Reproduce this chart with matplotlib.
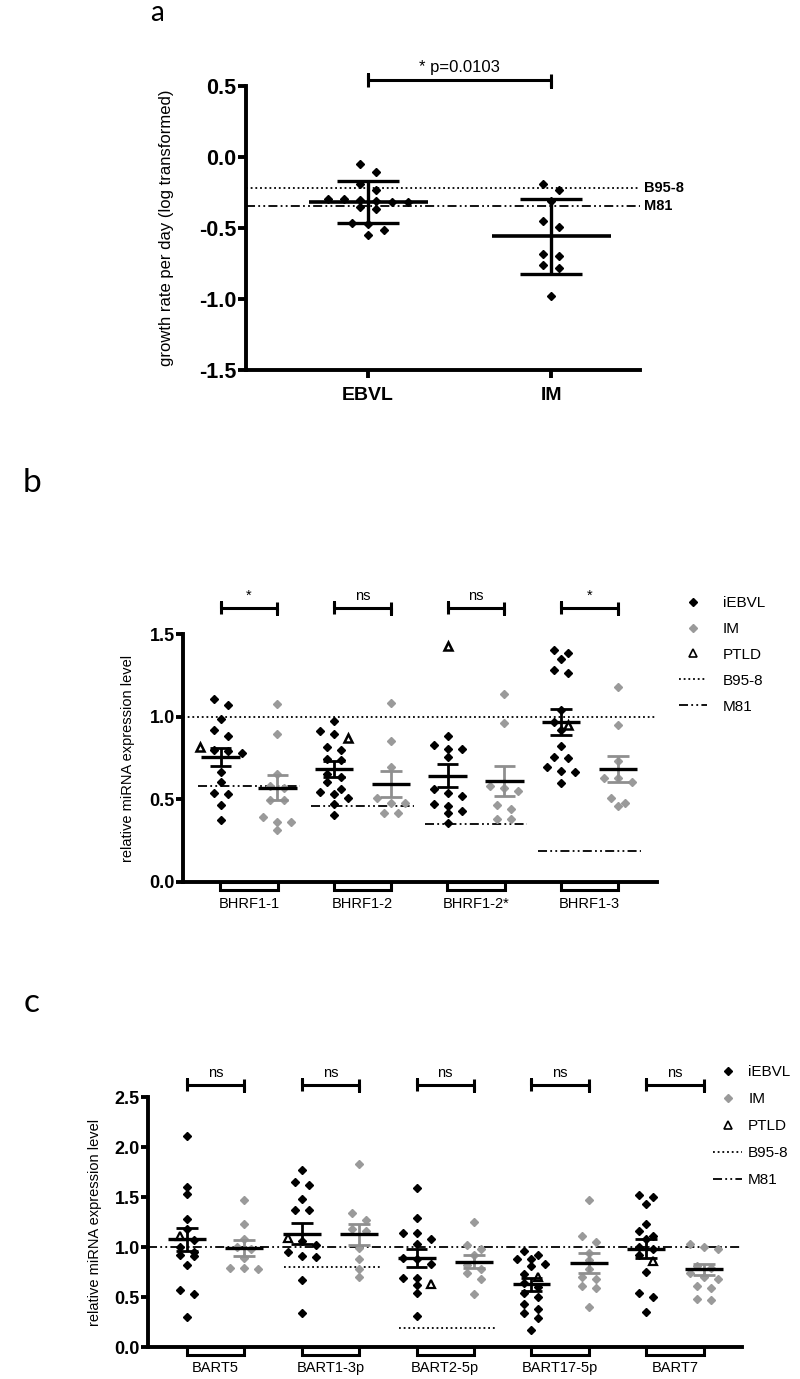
import numpy as np
import matplotlib.pyplot as plt
from matplotlib.lines import Line2D
import matplotlib.transforms as mtransforms

plt.rcParams['font.family'] = ['Liberation Sans', 'DejaVu Sans']
plt.rcParams['axes.unicode_minus'] = False

# ---------------- data ----------------
# panel a: growth rate per day (log transformed)
a_groups = ["EBVL", "IM"]
ebvl_growth = [-0.047, -0.103, -0.188, -0.235, -0.293, -0.293, -0.30, -0.31, -0.315,
               -0.32, -0.352, -0.364, -0.465, -0.469, -0.516, -0.552]
im_growth = [-0.188, -0.23, -0.312, -0.453, -0.495, -0.681, -0.697, -0.763, -0.782, -0.979]
growth_mean = [-0.319, -0.559]
growth_sd = [0.149, 0.265]
growth_b958 = -0.218
growth_m81 = -0.347
growth_pval = "* p=0.0103"

# panel b: BHRF1 miRNAs
b_cats = ["BHRF1-1", "BHRF1-2", "BHRF1-2*", "BHRF1-3"]
b_iebvl = [
    [1.106, 1.071, 0.986, 0.922, 0.884, 0.80, 0.79, 0.78, 0.663, 0.602, 0.541, 0.535, 0.465, 0.376],
    [0.973, 0.914, 0.894, 0.816, 0.796, 0.745, 0.735, 0.653, 0.633, 0.602, 0.561, 0.545, 0.531,
     0.51, 0.469, 0.404],
    [0.882, 0.827, 0.806, 0.806, 0.755, 0.561, 0.541, 0.52, 0.469, 0.46, 0.429, 0.418, 0.357],
    [1.404, 1.384, 1.347, 1.28, 1.265, 1.04, 0.97, 0.922, 0.82, 0.755, 0.751, 0.698, 0.673,
     0.663, 0.596],
]
b_ptld = [0.816, 0.873, 1.429, 0.949]
b_im = [
    [1.076, 0.898, 0.653, 0.582, 0.57, 0.494, 0.494, 0.392, 0.361, 0.361, 0.316],
    [1.082, 0.851, 0.698, 0.51, 0.476, 0.476, 0.418, 0.418],
    [1.137, 0.963, 0.582, 0.571, 0.55, 0.465, 0.439, 0.384, 0.384],
    [1.18, 0.949, 0.731, 0.629, 0.629, 0.602, 0.51, 0.476, 0.459],
]
b_iebvl_mean = [0.755, 0.684, 0.643, 0.969]
b_iebvl_sem = [0.054, 0.049, 0.071, 0.077]
b_im_mean = [0.571, 0.592, 0.612, 0.684]
b_im_sem = [0.074, 0.077, 0.089, 0.081]
b_b958 = 1.0
b_m81 = [0.578, 0.459, 0.353, 0.188]
b_sig = ["*", "ns", "ns", "*"]

# panel c: BART miRNAs
c_cats = ["BART5", "BART1-3p", "BART2-5p", "BART17-5p", "BART7"]
c_iebvl = [
    [2.108, 1.6, 1.53, 1.28, 1.18, 1.07, 1.0, 0.953, 0.92, 0.91, 0.82, 0.57, 0.527, 0.3],
    [1.77, 1.65, 1.62, 1.48, 1.37, 1.37, 1.06, 1.02, 0.95, 0.91, 0.90, 0.667, 0.337],
    [1.59, 1.287, 1.143, 1.137, 1.083, 1.03, 0.893, 0.877, 0.827, 0.693, 0.687, 0.62, 0.543, 0.31],
    [0.96, 0.92, 0.883, 0.877, 0.827, 0.81, 0.727, 0.643, 0.603, 0.543, 0.5, 0.427, 0.383,
     0.343, 0.293, 0.167],
    [1.517, 1.503, 1.427, 1.233, 1.16, 1.11, 1.083, 1.003, 0.977, 0.917, 0.753, 0.537, 0.5, 0.35],
]
c_ptld = [1.11, 1.087, 0.627, 0.703, 0.86]
c_im = [
    [1.467, 1.227, 1.077, 1.003, 0.98, 0.893, 0.793, 0.793, 0.777],
    [1.83, 1.337, 1.27, 1.18, 1.16, 0.987, 0.877, 0.777, 0.703],
    [1.25, 1.017, 0.977, 0.917, 0.817, 0.777, 0.737, 0.677, 0.527],
    [1.47, 1.11, 1.05, 0.943, 0.87, 0.777, 0.7, 0.677, 0.61, 0.593, 0.4],
    [1.027, 1.0, 0.977, 0.81, 0.787, 0.74, 0.703, 0.677, 0.61, 0.587, 0.483, 0.467],
]
c_iebvl_mean = [1.077, 1.133, 0.893, 0.627, 0.983]
c_iebvl_sem = [0.113, 0.103, 0.088, 0.062, 0.095]
c_im_mean = [0.993, 1.127, 0.853, 0.843, 0.777]
c_im_sem = [0.08, 0.108, 0.067, 0.1, 0.058]
c_m81 = 1.0
c_b958 = [np.nan, 0.8, 0.19, np.nan, np.nan]
c_sig = ["ns", "ns", "ns", "ns", "ns"]

# ---------------- styles ----------------
BLACK = "black"
GRAY = "#9a9a9a"
GRAY_ERR = "#8f8f8f"
DOT = (0, (1, 1.6))
DASHDOTDOT = (0, (5, 1.8, 1, 1.8, 1, 1.8))
LW_AX = 2.8

W, H = 800, 1379
fig = plt.figure(figsize=(W / 100, H / 100), dpi=100)


def px_axes(l, r, t, b):
    return fig.add_axes([l / W, 1 - b / H, (r - l) / W, (b - t) / H])


def style_axes(ax, ticks, tick_fs, tick_len):
    for s in ["top", "right"]:
        ax.spines[s].set_visible(False)
    for s in ["left", "bottom"]:
        ax.spines[s].set_linewidth(LW_AX)
        ax.spines[s].set_capstyle("projecting")
    ax.set_yticks(ticks)
    ax.set_yticklabels([f"{t:.1f}" for t in ticks], fontweight="bold", fontsize=tick_fs)
    ax.tick_params(axis="y", width=LW_AX, length=tick_len, pad=1)


def swarm(ax, vals, row_px, step_px):
    # rows of nearly equal values are spread sideways, centred on the group
    vals = np.asarray(vals, float)
    to_px = ax.transData.transform
    ys = to_px(np.column_stack([np.zeros_like(vals), vals]))[:, 1]
    ux = to_px([[1, 0]])[0, 0] - to_px([[0, 0]])[0, 0]
    order = np.argsort(-ys)
    rows = []
    for i in order:
        if rows and ys[rows[-1][0]] - ys[i] < row_px:
            rows[-1].append(i)
        else:
            rows.append([i])
    offs = np.zeros_like(vals)
    for r in rows:
        n = len(r)
        for k, i in enumerate(r):
            offs[i] = (k - (n - 1) / 2) * step_px / ux
    return offs


def mean_err(ax, x, m, e, mw, cw, mcol, ecol, lw_m, lw_e):
    ax.vlines(x, m - e, m + e, color=ecol, lw=lw_e, zorder=4)
    ax.hlines([m - e, m + e], x - cw / 2, x + cw / 2, color=ecol, lw=lw_e, zorder=4)
    ax.hlines(m, x - mw / 2, x + mw / 2, color=mcol, lw=lw_m, zorder=5)


def bracket(ax, x0, x1, y, tick, text, fs):
    ax.plot([x0, x0, x0, x1, x1, x1], [y - tick, y + tick, y, y, y - tick, y + tick],
            color=BLACK, lw=2.2, clip_on=False, solid_capstyle="butt")
    ax.text((x0 + x1) / 2, y + tick * 0.9, text, ha="center", va="bottom", fontsize=fs)


# ================= panel a =================
ax_a = px_axes(246, 640, 86, 370)
ax_a.set_xlim(-0.667, 1.486)
ax_a.set_ylim(-1.5, 0.5)
style_axes(ax_a, [-1.5, -1.0, -0.5, 0.0, 0.5], 15.5, 6)
ax_a.set_xticks([0, 1])
ax_a.set_xticklabels(a_groups, fontweight="bold", fontsize=14)
ax_a.tick_params(axis="x", width=LW_AX, length=6, pad=6)
ax_a.set_ylabel("growth rate per day (log transformed)", fontsize=12, labelpad=18)

ax_a.axhline(growth_b958, ls=DOT, color=BLACK, lw=1.3, zorder=1)
ax_a.axhline(growth_m81, ls=DASHDOTDOT, color=BLACK, lw=1.3, zorder=1)
tr_a = mtransforms.blended_transform_factory(ax_a.transAxes, ax_a.transData)
ax_a.text(1.01, growth_b958, "B95-8", transform=tr_a, va="center", ha="left",
          fontweight="bold", fontsize=10.5)
ax_a.text(1.01, growth_m81, "M81", transform=tr_a, va="center", ha="left",
          fontweight="bold", fontsize=10.5)

for i, vals in enumerate([ebvl_growth, im_growth]):
    offs = swarm(ax_a, vals, 8, 16)
    ax_a.plot(i + offs, vals, ls="none", marker="D", ms=4.3, color=BLACK, zorder=3)
    mean_err(ax_a, i, growth_mean[i], growth_sd[i], 0.65, 0.34, BLACK, BLACK, 2.6, 2.4)

bracket(ax_a, 0, 1, 0.54, 0.045, growth_pval, 12)
fig.text(157 / W, 1 - 21 / H, "a", fontsize=20, family="Lato", ha="center", va="baseline")

# ================= panel b =================
ax_b = px_axes(183, 657, 634, 882)
ax_b.set_xlim(-0.581, 3.595)
ax_b.set_ylim(0, 1.5)
style_axes(ax_b, [0.0, 0.5, 1.0, 1.5], 13, 5)
ax_b.set_xticks(range(len(b_cats)))
ax_b.set_xticklabels(b_cats, fontsize=10.5)
ax_b.tick_params(axis="x", length=0, pad=11)
ax_b.set_ylabel("relative miRNA expression level", fontsize=10.5, labelpad=10)
ax_b.bar(range(len(b_cats)), -0.05, width=0.51, bottom=0, color="white", edgecolor=BLACK,
         lw=2.2, clip_on=False, zorder=0)

ax_b.axhline(b_b958, ls=DOT, color=BLACK, lw=1.3, zorder=1)
for i in range(len(b_cats)):
    ax_b.hlines(b_m81[i], i - 0.45, i + 0.45, ls=DASHDOTDOT, color=BLACK, lw=1.3, zorder=1)
    xb, xg = i - 0.25, i + 0.25
    vals = b_iebvl[i] + [b_ptld[i]]
    offs = swarm(ax_b, vals, 7, 14)
    ax_b.plot(xb + offs[:-1], b_iebvl[i], ls="none", marker="D", ms=3.7, color=BLACK, zorder=3)
    ax_b.plot(xb + offs[-1], b_ptld[i], ls="none", marker="^", ms=6, mfc="white", mec=BLACK,
              mew=1.8, zorder=3, clip_on=False)
    offs = swarm(ax_b, b_im[i], 7, 14)
    ax_b.plot(xg + offs, b_im[i], ls="none", marker="D", ms=3.7, color=GRAY, zorder=3)
    mean_err(ax_b, xb, b_iebvl_mean[i], b_iebvl_sem[i], 0.34, 0.19, BLACK, BLACK, 2.4, 2.0)
    mean_err(ax_b, xg, b_im_mean[i], b_im_sem[i], 0.34, 0.19, BLACK, GRAY_ERR, 2.4, 2.0)
    bracket(ax_b, xb, xg, 1.657, 0.036, b_sig[i], 10.5)

fig.text(32 / W, 1 - 483 / H, "b", fontsize=24, family="Lato", ha="center", va="center")

# ================= panel c =================
ax_c = px_axes(148, 742, 1097, 1347)
ax_c.set_xlim(-0.587, 4.582)
ax_c.set_ylim(0, 2.5)
style_axes(ax_c, [0.0, 0.5, 1.0, 1.5, 2.0, 2.5], 13, 5)
ax_c.set_xticks(range(len(c_cats)))
ax_c.set_xticklabels(c_cats, fontsize=10.5)
ax_c.tick_params(axis="x", length=0, pad=10)
ax_c.set_ylabel("relative miRNA expression level", fontsize=10.5, labelpad=9)
ax_c.bar(range(len(c_cats)), -0.075, width=0.5, bottom=0, color="white", edgecolor=BLACK,
         lw=2.2, clip_on=False, zorder=0)

ax_c.axhline(c_m81, ls=DASHDOTDOT, color=BLACK, lw=1.3, zorder=1)
for i in range(len(c_cats)):
    if not np.isnan(c_b958[i]):
        ax_c.hlines(c_b958[i], i - 0.4, i + 0.45, ls=DOT, color=BLACK, lw=1.3, zorder=1)
    xb, xg = i - 0.25, i + 0.25
    vals = c_iebvl[i] + [c_ptld[i]]
    offs = swarm(ax_c, vals, 7, 14)
    ax_c.plot(xb + offs[:-1], c_iebvl[i], ls="none", marker="D", ms=3.7, color=BLACK, zorder=3)
    ax_c.plot(xb + offs[-1], c_ptld[i], ls="none", marker="^", ms=6, mfc="white", mec=BLACK,
              mew=1.6, zorder=3)
    offs = swarm(ax_c, c_im[i], 7, 14)
    ax_c.plot(xg + offs, c_im[i], ls="none", marker="D", ms=3.7, color=GRAY, zorder=3)
    mean_err(ax_c, xb, c_iebvl_mean[i], c_iebvl_sem[i], 0.33, 0.19, BLACK, BLACK, 2.4, 2.0)
    mean_err(ax_c, xg, c_im_mean[i], c_im_sem[i], 0.33, 0.19, BLACK, GRAY_ERR, 2.4, 2.0)
    bracket(ax_c, xb, xg, 2.62, 0.06, c_sig[i], 10.5)

fig.text(32 / W, 1 - 1003 / H, "c", fontsize=24, family="Lato", ha="center", va="center")

# ---------------- legends ----------------
handles = [
    Line2D([], [], ls="none", marker="D", ms=4, color=BLACK),
    Line2D([], [], ls="none", marker="D", ms=4, color=GRAY),
    Line2D([], [], ls="none", marker="^", ms=6, mfc="white", mec=BLACK, mew=1.2),
    Line2D([], [], ls=DOT, color=BLACK, lw=1.3),
    Line2D([], [], ls=DASHDOTDOT, color=BLACK, lw=1.3),
]
labels = ["iEBVL", "IM", "PTLD", "B95-8", "M81"]
fig.legend(handles, labels, loc="upper left", bbox_to_anchor=(679 / W, 1 - 596 / H),
           frameon=False, fontsize=11, handlelength=1.85, handletextpad=1.0,
           labelspacing=0.78, borderpad=0, borderaxespad=0)
fig.legend(handles, labels, loc="upper left", bbox_to_anchor=(713 / W, 1 - 1065 / H),
           frameon=False, fontsize=11, handlelength=1.9, handletextpad=0.4,
           labelspacing=0.85, borderpad=0, borderaxespad=0)

fig.savefig("out.png", dpi=100)
